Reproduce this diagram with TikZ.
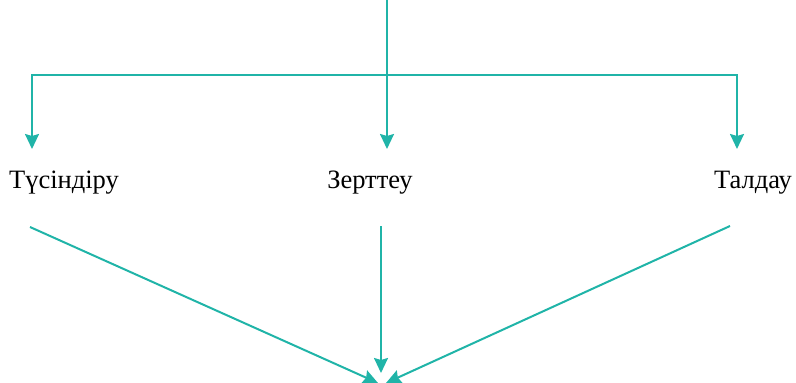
\documentclass[tikz,border=0pt]{standalone}
\usepackage{fontspec}
\setmainfont{Liberation Serif}
\usepackage{tikz}
\usetikzlibrary{arrows.meta}
\definecolor{teal1}{RGB}{32,180,168}

\begin{document}
\begin{tikzpicture}[x=1pt,y=-1pt,>={Stealth[width=14pt,length=15pt,inset=2pt]},
  link/.style={teal1,line width=2pt},
  word/.style={font=\fontsize{26.5}{30}\selectfont,anchor=base,inner sep=0pt}]
\useasboundingbox (0,0) rectangle (796,383);
\clip (0,0) rectangle (796,383);
\node[word] (tus) at (64,188) {Түсіндіру};
\node[word] (zer) at (370,188) {Зерттеу};
\node[word] (tal) at (753,188) {Талдау};
\coordinate (top) at (387,-2);
\coordinate (tusin) at (32,149);
\coordinate (zerin) at (387,149);
\coordinate (talin) at (737,149);
\coordinate (tusout) at (30,227);
\coordinate (zerout) at (381,226);
\coordinate (talout) at (730,226);
\coordinate (endL) at (378,383);
\coordinate (endM) at (381,373);
\coordinate (endR) at (386,383);
\draw[link,->](top)--(zerin);
\draw[link,->](zerin|-0,75)-|(tusin);
\draw[link,->](zerin|-0,75)-|(talin);
\draw[link,->](tusout)--(endL);
\draw[link,->](zerout)--(endM);
\draw[link,->](talout)--(endR);
\end{tikzpicture}
\end{document}
